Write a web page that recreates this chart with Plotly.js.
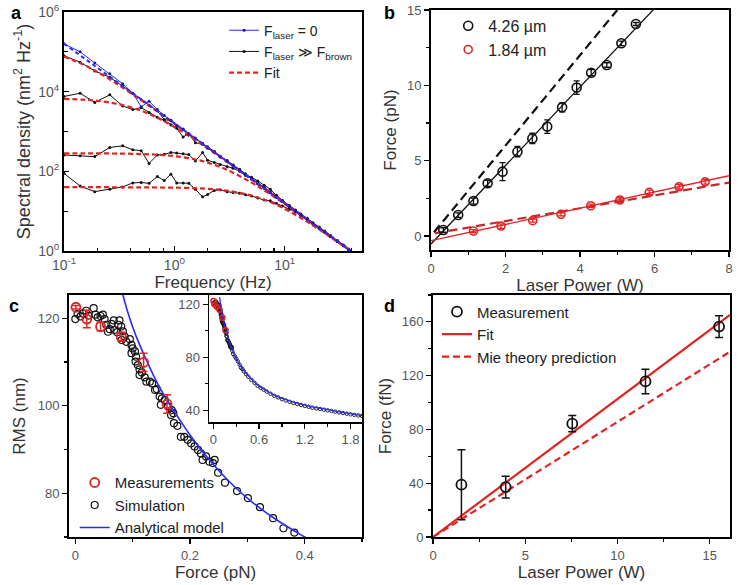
<!DOCTYPE html>
<html>
<head>
<meta charset="utf-8">
<script src="https://cdn.plot.ly/plotly-3.0.1.min.js"></script>
<style>html,body{margin:0;padding:0;background:#fff;}#chart{width:747px;height:585px;}</style>
</head>
<body>
<div id="chart"></div>
<script>
// ---------- Panel a: spectral densities ----------
const freqA = [0.1,0.14,0.19,0.26,0.34,0.42,0.5,0.59,0.7,0.81,0.93,1.05,1.2,1.35,1.55,1.8,2.0,2.3,2.6,3.0,3.4,3.9,4.4,5.0,5.7,6.5,7.4,8.4,9.5,11,12.5,14,16,18,20.5,23,26,30,34,38];
// log10 of spectral density (nm^2 Hz^-1)
const logPsdFree = [5.20,5.00,4.72,4.45,4.20,3.96,3.62,3.76,3.55,3.40,3.28,3.14,3.06,2.93,2.84,2.70,2.60,2.49,2.37,2.26,2.15,2.04,1.91,1.82,1.69,1.58,1.47,1.35,1.25,1.12,1.01,0.91,0.80,0.70,0.58,0.48,0.37,0.25,0.14,0.04];
const logPsdForced1 = [4.90,4.74,4.52,4.36,4.14,3.96,3.80,3.66,3.52,3.30,3.27,3.16,3.05,2.93,2.82,2.70,2.62,2.50,2.38,2.27,2.16,2.05,1.94,1.83,1.71,1.60,1.48,1.37,1.27,1.14,1.03,0.93,0.82,0.71,0.60,0.49,0.38,0.26,0.15,0.05];
const logPsdForced2 = [3.88,3.96,3.73,3.92,3.64,3.55,3.60,3.48,3.36,3.28,3.17,3.08,2.86,2.95,2.72,2.68,2.58,2.47,2.36,2.25,2.15,2.03,1.92,1.80,1.69,1.58,1.46,1.35,1.24,1.12,1.01,0.91,0.80,0.69,0.58,0.48,0.37,0.24,0.13,0.03];
const logPsdForced3 = [2.41,2.39,2.37,2.60,2.64,2.54,2.52,2.20,2.41,2.43,2.47,2.46,2.44,2.42,2.26,2.47,2.28,2.22,2.17,2.12,2.08,2.00,1.90,1.85,1.76,1.65,1.55,1.40,1.27,1.13,1.02,0.92,0.80,0.69,0.58,0.47,0.36,0.24,0.13,0.03];
const logPsdForced4 = [1.95,1.63,1.49,1.55,1.61,1.71,1.72,1.70,1.87,1.77,1.93,1.71,1.71,1.70,1.55,1.36,1.42,1.52,1.54,1.49,1.47,1.45,1.41,1.38,1.33,1.28,1.26,1.20,1.13,1.05,0.98,0.88,0.79,0.69,0.59,0.50,0.39,0.26,0.14,0.03];
const freqFit = [0.1,0.15,0.2,0.3,0.5,0.7,1,1.5,2,3,5,7,10,15,20,30,40];
const fitFree = [160000,71111,40000,17778,6400,3265,1600,711,400,178,64,32.7,16,7.1,4,1.78,1.0];
const fit1 = [76190,47761,31373,15842,6130,3194,1583,708,399,177.6,64,32.6,16,7.11,4.0,1.78,1.0];
const fit2 = [6612,6287,5882,4969,3320,2216,1299,645,378,173,63.4,32.5,15.96,7.10,4.0,1.78,1.0];
const fit3 = [284,283,282,280,272,261,241,203,166,109,52.2,29.3,15.15,6.94,3.94,1.77,1.0];
const fit4 = [40,40,40,39.9,39.5,39.3,39.0,37.9,36.4,32.7,24.6,18.0,11.4,6.04,3.64,1.70,0.98];

// ---------- Panel b: force vs laser power ----------
const powerBig = [0.33,0.73,1.14,1.52,1.92,2.32,2.72,3.12,3.52,3.91,4.30,4.72,5.11,5.50];
const forceBig = [0.40,1.39,2.32,3.50,4.27,5.60,6.48,7.26,8.54,9.85,10.84,11.35,12.79,14.07];
const errBig = [0.15,0.15,0.2,0.2,0.6,0.35,0.35,0.45,0.3,0.45,0.2,0.15,0.15,0.1];
const powerSmall = [1.14,1.88,2.73,3.49,4.29,5.07,5.86,6.66,7.36];
const forceSmall = [0.33,0.66,1.02,1.44,2.01,2.39,2.90,3.27,3.60];
const errSmall = [0.1,0.15,0.1,0.1,0.1,0.15,0.15,0.15,0.15];
const fitBigX = [0, 6.0], fitBigY = [-0.53, 15.1];
const theoBigX = [0.08, 5.0], theoBigY = [0.25, 15.0];
const fitSmallX = [0, 8], fitSmallY = [-0.31, 4.0];
const theoSmallX = [0.1, 8], theoSmallY = [0.18, 3.55];

// ---------- Panel c: RMS vs force ----------
const simForce = [0.000,0.004,0.009,0.013,0.019,0.023,0.032,0.035,0.039,0.044,0.048,0.051,0.054,0.057,0.060,0.063,0.067,0.068,0.073,0.075,0.077,0.080,0.083,0.086,0.081,0.089,0.095,0.098,0.100,0.104,0.098,0.106,0.105,0.109,0.112,0.116,0.112,0.121,0.124,0.130,0.134,0.139,0.142,0.147,0.151,0.156,0.162,0.168,0.171,0.149,0.167,0.172,0.178,0.184,0.190,0.196,0.202,0.208,0.214,0.219,0.222,0.228,0.234,0.240,0.243,0.249,0.261,0.282,0.301,0.322,0.345,0.363,0.382];
const simRms = [119.8,121.0,120.4,121.1,121.7,120.6,122.3,120.8,120.2,120.5,120.8,119.8,118.5,116.9,117.5,118.7,119.5,117.3,116.8,118.5,119.5,118.1,117.0,115.8,115.0,114.6,115.2,113.9,113.1,112.4,112.0,111.2,110.1,109.3,108.3,107.6,107.0,106.5,105.5,105.5,105.1,103.6,103.8,102.1,101.7,101.3,99.8,99.0,98.3,100.2,97.9,96.0,95.4,92.9,92.9,92.2,91.4,90.7,89.9,89.1,87.6,88.4,87.2,86.9,87.6,84.7,82.4,80.5,78.9,76.8,74.3,72.0,71.0];
const simForceExt = [0.40,0.43,0.46,0.5,0.54,0.58,0.62,0.66,0.7,0.75,0.8,0.85,0.9,0.95,1.0,1.05,1.1,1.15,1.2,1.25,1.3,1.35,1.4,1.45,1.5,1.55,1.6,1.65,1.7,1.75,1.8,1.85,1.9,1.95];
const simRmsExt = [69.3,67.2,65.2,62.8,60.6,58.4,56.9,55.5,54.0,52.4,50.8,49.6,48.3,47.3,46.3,45.4,44.6,43.9,43.2,42.5,41.8,41.3,40.8,40.3,39.8,39.3,38.8,38.3,37.8,37.3,36.8,36.4,36.0,35.6];
const measForce = [0.001,0.020,0.044,0.080,0.119,0.160];
const measRms = [122.5,119.8,118.1,115.8,109.9,100.4];
const measErr = [0.4,2.0,1.0,1.0,2.1,2.1];
const modelForce = [0.083,0.09,0.1,0.11,0.12,0.135,0.15,0.165,0.18,0.2,0.225,0.25,0.28,0.31,0.35,0.4,0.44,0.5,0.59,0.7,0.79,0.9,1.05,1.2,1.31,1.45,1.58,1.75,1.95];
const modelRms = [125.3,122,118,114.6,111.6,107.3,103.5,100.2,97.2,93.3,89,85.2,81.2,77.8,74,70,67,63.5,58.5,54.5,51.5,48.8,46,43.8,42.3,41,39.5,37.8,35.8];

// ---------- Panel d: force (fN) vs laser power ----------
const powerD = [1.54,3.94,7.55,11.52,15.51];
const forceD = [38.9,37.1,84.3,115.7,156.5];
const errD = [26,8.1,6,9.1,8.1];
const fitDX = [0, 16.1], fitDY = [0, 165.2];
const mieDX = [0, 16.1], mieDY = [0, 137.8];

// ---------- styling ----------
const FONT = 'Liberation Sans, Arial, sans-serif';
const RED = '#e02424';
const DRED = '#c22a2a';
const BLUE = '#2a2aff';
const tickFont = {family: FONT, size: 13, color: '#555'};
const titleFont = {family: FONT, size: 17, color: '#333'};

function ax(extra) {
  return Object.assign({
    showline: true, linecolor: '#000', linewidth: 2, mirror: true,
    ticks: 'outside', ticklen: 5, tickwidth: 1.2, tickcolor: '#000',
    showgrid: false, zeroline: false, tickfont: tickFont
  }, extra);
}

const pow10 = a => a.map(v => Math.pow(10, v));
const traces = [];

// Panel a
const blackA = [logPsdForced1, logPsdForced2, logPsdForced3, logPsdForced4];
blackA.forEach((arr, i) => traces.push({
  x: freqA, y: pow10(arr), xaxis: 'x', yaxis: 'y', mode: 'lines+markers',
  line: {color: '#111', width: 1}, marker: {color: '#111', size: 3},
  name: 'F<sub>laser</sub> ≫ F<sub>brown</sub>', legend: 'legend', legendrank: 2, showlegend: i === 0
}));
[fit1, fit2, fit3, fit4].forEach((arr, i) => traces.push({
  x: freqFit, y: arr, xaxis: 'x', yaxis: 'y', mode: 'lines', line: {color: RED, width: 2.2, dash: '5px,3px', shape: 'spline'},
  name: 'Fit', legend: 'legend', legendrank: 3, showlegend: i === 0
}));
traces.push({
  x: freqA, y: pow10(logPsdFree), xaxis: 'x', yaxis: 'y', mode: 'lines+markers',
  line: {color: BLUE, width: 1}, marker: {color: '#1a1a99', size: 3},
  name: 'F<sub>laser</sub> = 0', legend: 'legend', legendrank: 1
});
traces.push({
  x: freqFit, y: fitFree, xaxis: 'x', yaxis: 'y', mode: 'lines', line: {color: BLUE, width: 2, dash: '4px,3px'},
  showlegend: false
});

// Panel b
traces.push({x: theoBigX, y: theoBigY, xaxis: 'x2', yaxis: 'y2', mode: 'lines', line: {color: '#111', width: 2.2, dash: '9px,5px'}, showlegend: false});
traces.push({x: fitBigX, y: fitBigY, xaxis: 'x2', yaxis: 'y2', mode: 'lines', line: {color: '#111', width: 1.3}, showlegend: false});
traces.push({x: theoSmallX, y: theoSmallY, xaxis: 'x2', yaxis: 'y2', mode: 'lines', line: {color: DRED, width: 2.2, dash: '9px,5px'}, showlegend: false});
traces.push({x: fitSmallX, y: fitSmallY, xaxis: 'x2', yaxis: 'y2', mode: 'lines', line: {color: RED, width: 1.3}, showlegend: false});
traces.push({x: powerBig, y: forceBig, xaxis: 'x2', yaxis: 'y2', mode: 'markers', name: '4.26 µm', legend: 'legend2',
  error_y: {type: 'data', array: errBig, color: '#111', thickness: 1.3, width: 3},
  marker: {symbol: 'circle-open', size: 9, color: '#111', line: {width: 1.6}}});
traces.push({x: powerSmall, y: forceSmall, xaxis: 'x2', yaxis: 'y2', mode: 'markers', name: '1.84 µm', legend: 'legend2',
  error_y: {type: 'data', array: errSmall, color: RED, thickness: 1.3, width: 3},
  marker: {symbol: 'circle-open', size: 8, color: RED, line: {width: 1.6}}});

// Panel c main
traces.push({x: simForce, y: simRms, xaxis: 'x3', yaxis: 'y3', mode: 'markers', name: 'Simulation', legend: 'legend3', legendrank: 2,
  marker: {symbol: 'circle-open', size: 7, color: '#111', line: {width: 1.2}}});
traces.push({x: modelForce, y: modelRms, xaxis: 'x3', yaxis: 'y3', mode: 'lines', name: 'Analytical model', legend: 'legend3', legendrank: 3,
  line: {color: BLUE, width: 1.6, shape: 'spline'}});
traces.push({x: measForce, y: measRms, xaxis: 'x3', yaxis: 'y3', mode: 'markers', name: 'Measurements', legend: 'legend3', legendrank: 1,
  error_y: {type: 'data', array: measErr, color: RED, thickness: 1.5, width: 4},
  marker: {symbol: 'circle-open', size: 9, color: RED, line: {width: 1.8}}});

// Panel c inset
traces.push({x: simForce.concat(simForceExt), y: simRms.concat(simRmsExt), xaxis: 'x4', yaxis: 'y4', mode: 'markers', showlegend: false,
  marker: {symbol: 'circle-open', size: 3.5, color: '#111', line: {width: 0.9}}});
traces.push({x: modelForce, y: modelRms, xaxis: 'x4', yaxis: 'y4', mode: 'lines', showlegend: false,
  line: {color: BLUE, width: 1.3, shape: 'spline'}});
traces.push({x: measForce, y: measRms, xaxis: 'x4', yaxis: 'y4', mode: 'markers', showlegend: false,
  marker: {symbol: 'circle-open', size: 5, color: RED, line: {width: 1.5}}});

// Panel d
traces.push({x: mieDX, y: mieDY, xaxis: 'x5', yaxis: 'y5', mode: 'lines', name: 'Mie theory prediction', legend: 'legend4', legendrank: 3,
  line: {color: RED, width: 2.2, dash: '7px,4px'}});
traces.push({x: fitDX, y: fitDY, xaxis: 'x5', yaxis: 'y5', mode: 'lines', name: 'Fit', legend: 'legend4', legendrank: 2,
  line: {color: RED, width: 2.2}});
traces.push({x: powerD, y: forceD, xaxis: 'x5', yaxis: 'y5', mode: 'markers', name: 'Measurement', legend: 'legend4', legendrank: 1,
  error_y: {type: 'data', array: errD, color: '#111', thickness: 1.5, width: 4},
  marker: {symbol: 'circle-open', size: 10, color: '#111', line: {width: 1.8}}});

const legendBase = {bgcolor: 'rgba(0,0,0,0)', borderwidth: 0, font: {family: FONT, size: 16, color: '#222'},
  xanchor: 'left', yanchor: 'top', tracegroupgap: 0, itemwidth: 30};

const layout = {
  width: 747, height: 585, margin: {l: 0, r: 0, t: 0, b: 0},
  paper_bgcolor: '#fff', plot_bgcolor: '#fff', font: {family: FONT},
  xaxis: ax({type: 'log', domain: [0.0857, 0.4846], range: [-1, 1.7], anchor: 'y', ticks: 'inside',
    tickvals: [0.1, 1, 10], ticktext: ['10<sup>-1</sup>', '10<sup>0</sup>', '10<sup>1</sup>'], tickfont: {family: FONT, size: 14, color: '#555'},
    minor: {tickvals: [0.2,0.4,0.6,0.8,2,4,6,8,20,40], ticks: 'inside', ticklen: 3, tickcolor: '#000'},
    title: {text: 'Frequency (Hz)', font: titleFont, standoff: 2}}),
  yaxis: ax({type: 'log', domain: [0.5709, 0.9795], range: [0, 6], anchor: 'x', ticks: 'inside',
    tickvals: [1, 100, 1e4, 1e6], ticktext: ['10<sup>0</sup>', '10<sup>2</sup>', '10<sup>4</sup>', '10<sup>6</sup>'], tickfont: {family: FONT, size: 14, color: '#555'},
    minor: {tickvals: [10, 1000, 1e5], ticks: 'inside', ticklen: 4, tickcolor: '#000'},
    title: {text: 'Spectral density (nm<sup>2</sup> Hz<sup>-1</sup>)', font: {family: FONT, size: 18, color: '#333'}, standoff: 3}}),
  xaxis2: ax({domain: [0.577, 0.9759], range: [0, 8], anchor: 'y2', dtick: 2, tick0: 0,
    minor: {dtick: 1, ticks: 'outside', ticklen: 3, tickcolor: '#000'},
    title: {text: 'Laser Power (W)', font: titleFont, standoff: 2}}),
  yaxis2: ax({domain: [0.5726, 0.9829], range: [-0.93, 15], anchor: 'x2', dtick: 5, tick0: 0,
    minor: {dtick: 2.5, ticks: 'outside', ticklen: 3, tickcolor: '#000'},
    title: {text: 'Force (pN)', font: titleFont, standoff: 6}}),
  xaxis3: ax({domain: [0.0924, 0.4846], range: [-0.011, 0.5], anchor: 'y3', dtick: 0.2, tick0: 0,
    minor: {dtick: 0.1, ticks: 'outside', ticklen: 3, tickcolor: '#000'},
    title: {text: 'Force (pN)', font: titleFont, standoff: 2}}),
  yaxis3: ax({domain: [0.0821, 0.4957], range: [70, 125.3], anchor: 'x3', dtick: 20, tick0: 0,
    minor: {dtick: 10, ticks: 'outside', ticklen: 3, tickcolor: '#000'},
    title: {text: 'RMS (nm)', font: titleFont, standoff: 8}}),
  xaxis4: ax({domain: [0.2798, 0.4846], range: [-0.057, 1.95], anchor: 'y4', dtick: 0.6, tick0: 0, linewidth: 1.5,
    minor: {dtick: 0.3, ticks: 'outside', ticklen: 3, tickcolor: '#000'}}),
  yaxis4: ax({domain: [0.2786, 0.4957], range: [31, 127], anchor: 'x4', dtick: 40, tick0: 0, linewidth: 1.5,
    minor: {dtick: 20, ticks: 'outside', ticklen: 3, tickcolor: '#000'}}),
  xaxis5: ax({domain: [0.5797, 0.9772], range: [0, 16.1], anchor: 'y5', dtick: 5, tick0: 0,
    minor: {dtick: 2.5, ticks: 'outside', ticklen: 3, tickcolor: '#000'},
    title: {text: 'Laser Power (W)', font: titleFont, standoff: 2}}),
  yaxis5: ax({domain: [0.0821, 0.4957], range: [0, 180], anchor: 'x5', dtick: 40, tick0: 0,
    minor: {dtick: 20, ticks: 'outside', ticklen: 3, tickcolor: '#000'},
    title: {text: 'Force (fN)', font: titleFont, standoff: 6}}),
  legend: Object.assign({}, legendBase, {x: 0.300, y: 0.975, traceorder: 'normal', font: {family: FONT, size: 14, color: '#222'}}),
  legend2: Object.assign({}, legendBase, {x: 0.600, y: 0.985}),
  legend3: Object.assign({}, legendBase, {x: 0.100, y: 0.203, font: {family: FONT, size: 15, color: '#222'}}),
  legend4: Object.assign({}, legendBase, {x: 0.585, y: 0.495, font: {family: FONT, size: 15, color: '#222'}}),
  annotations: [
    {text: '<b>a</b>', x: 0.012, y: 0.999, xref: 'paper', yref: 'paper', xanchor: 'left', yanchor: 'top', showarrow: false, font: {family: FONT, size: 18, color: '#000'}},
    {text: '<b>b</b>', x: 0.512, y: 0.999, xref: 'paper', yref: 'paper', xanchor: 'left', yanchor: 'top', showarrow: false, font: {family: FONT, size: 18, color: '#000'}},
    {text: '<b>c</b>', x: 0.010, y: 0.498, xref: 'paper', yref: 'paper', xanchor: 'left', yanchor: 'top', showarrow: false, font: {family: FONT, size: 18, color: '#000'}},
    {text: '<b>d</b>', x: 0.512, y: 0.498, xref: 'paper', yref: 'paper', xanchor: 'left', yanchor: 'top', showarrow: false, font: {family: FONT, size: 18, color: '#000'}}
  ]
};

Plotly.newPlot('chart', traces, layout, {staticPlot: true, displayModeBar: false});
</script>
</body>
</html>
